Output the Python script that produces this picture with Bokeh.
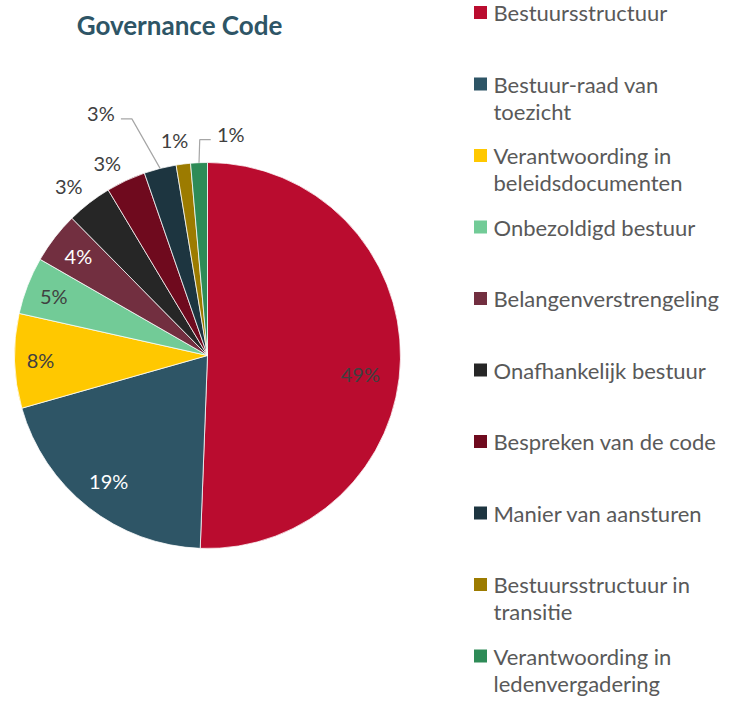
import math
import textwrap
from bokeh.plotting import figure
from bokeh.models import Range1d, ColumnDataSource
from bokeh.embed import file_html
from bokeh.resources import INLINE
from bokeh.core.properties import value

# ---------------- data ----------------
title_text = "Governance Code"
categories = [
    "Bestuursstructuur",
    "Bestuur-raad van toezicht",
    "Verantwoording in beleidsdocumenten",
    "Onbezoldigd bestuur",
    "Belangenverstrengeling",
    "Onafhankelijk bestuur",
    "Bespreken van de code",
    "Manier van aansturen",
    "Bestuursstructuur in transitie",
    "Verantwoording in ledenvergadering",
]
shares = [50.6, 20.0, 7.9, 4.8, 4.3, 3.8, 3.3, 2.7, 1.2, 1.4]
pct_labels = ["49%", "19%", "8%", "5%", "4%", "3%", "3%", "3%", "1%", "1%"]

# ---------------- styles / layout ----------------
colors = ["#BA0C2F", "#2E5566", "#FFC800", "#72CB97", "#722F40",
          "#262626", "#6F0A1E", "#1D3540", "#9C7B00", "#2E8B57"]
label_colors = ["#404040", "#FFFFFF", "#404040", "#404040", "#FFFFFF",
                "#404040", "#404040", "#404040", "#404040", "#404040"]
label_r = [154, 160, 167, 165, 163, 219, 217, 265, 218, 223]
label_dphi = [6, 0, 0, 0, 0, -1.5, -2.5, -9.5, -1.5, 8.5]
leader = [False] * 7 + [True, False, True]

FONT = "Lato"
W, H = 722, 697
cx, cy, R = 207, H - 355, 193

p = figure(width=W, height=H, x_range=Range1d(0, W), y_range=Range1d(0, H),
           output_backend="svg", toolbar_location=None,
           x_axis_type=None, y_axis_type=None, min_border=0,
           outline_line_color=None, background_fill_color="white",
           border_fill_color="white")

# ---------------- pie ----------------
total = sum(shares)
starts, ends, mids = [], [], []
acc = 0.0
for v in shares:
    phi0 = 360.0 * acc / total
    acc += v
    phi1 = 360.0 * acc / total
    starts.append(math.radians(90 - phi0))
    ends.append(math.radians(90 - phi1))
    mids.append((phi0 + phi1) / 2)

src = ColumnDataSource(dict(start=starts, end=ends, color=colors, cat=categories))
p.wedge(x=cx, y=cy, radius=R, radius_units="screen", start_angle="start", end_angle="end",
        direction="clock", fill_color="color", line_color="white", line_width=0.75, source=src)

# ---------------- labels ----------------
lx, ly = [], []
lead_xs, lead_ys = [], []
for i, m in enumerate(mids):
    phi = math.radians(m + label_dphi[i])
    x = cx + label_r[i] * math.sin(phi)
    y = cy + label_r[i] * math.cos(phi)
    lx.append(x)
    ly.append(y)
    if leader[i]:
        em = math.radians(m)
        ex = cx + R * math.sin(em)
        ey = cy + R * math.cos(em)
        side = 1 if ex > x else -1
        lead_xs.append([x + side * 20, x + side * 31, ex])
        lead_ys.append([y - 6, y - 6, ey])

p.multi_line(xs=lead_xs, ys=lead_ys, line_color="#A6A6A6", line_width=1.2)
p.text(x=lx, y=ly, text=pct_labels, text_color=label_colors, text_font=value(FONT),
       text_font_size="20px", text_align="center", text_baseline="middle")

# ---------------- title ----------------
p.text(x=[179], y=[H - 24], text=[title_text], text_color="#2E5566",
       text_font=value(FONT), text_font_style="bold", text_font_size="26px",
       text_align="center", text_baseline="middle")

# ---------------- legend ----------------
leg_x, step, first_y, line_h = 480, 71.5, H - 12, 27
sq_y = [first_y - i * step for i in range(len(categories))]
p.scatter(x=[leg_x] * len(categories), y=sq_y, marker="square", size=13,
          fill_color=colors, line_color=None)
tx, ty, tt = [], [], []
for i, c in enumerate(categories):
    for j, line in enumerate(textwrap.wrap(c, width=21, break_long_words=False)):
        tx.append(leg_x + 13)
        ty.append(sq_y[i] - j * line_h)
        tt.append(line)
p.text(x=tx, y=ty, text=tt, text_color="#595959", text_font=value(FONT),
       text_font_size="22px", text_align="left", text_baseline="middle")

open("out.html", "w").write(file_html(p, INLINE))
